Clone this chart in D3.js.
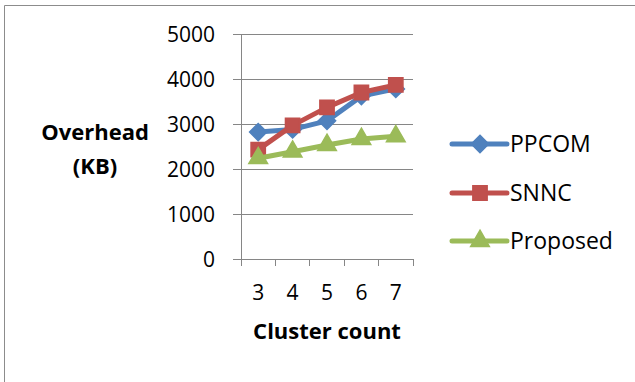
<!DOCTYPE html>
<html>
<head>
<meta charset="utf-8">
<script src="https://cdn.jsdelivr.net/npm/d3@7"></script>
<style>
  html, body { margin: 0; padding: 0; background: #fff; }
  svg { display: block; }
  text { font-family: "Open Sans", "Noto Sans", sans-serif; fill: #000; }
</style>
</head>
<body>
<svg id="chart" width="635" height="382"></svg>
<script>
// Overhead (KB) by cluster count for three schemes
const clusterCounts = ["3", "4", "5", "6", "7"];
const ppcom    = [2820, 2880, 3070, 3620, 3780];
const snnc     = [2430, 2970, 3370, 3700, 3870];
const proposed = [2240, 2385, 2533, 2667, 2726];
const yTicks   = [0, 1000, 2000, 3000, 4000, 5000];

const series = [
  { name: "PPCOM",    values: ppcom,    color: "#4F81BD", marker: "diamond" },
  { name: "SNNC",     values: snnc,     color: "#C0504D", marker: "square" },
  { name: "Proposed", values: proposed, color: "#9BBB59", marker: "triangle" }
];

const svg = d3.select("#chart");
const gridColor = "#868686";

// outer frame (open on the right and bottom)
svg.append("path")
  .attr("d", "M4.5,382 V5.5 H635")
  .attr("fill", "none")
  .attr("stroke", "#8c8c8c")
  .attr("stroke-width", 1);

const plot = { left: 241, right: 413, top: 34, bottom: 259 };

const x = d3.scaleBand()
  .domain(clusterCounts)
  .range([plot.left, plot.right])
  .padding(0);

const y = d3.scaleLinear()
  .domain([0, 5000])
  .range([plot.bottom, plot.top]);

// horizontal gridlines + y-axis
const yAxis = d3.axisLeft(y)
  .tickValues(yTicks)
  .tickFormat(d3.format("d"))
  .tickSize(-(plot.right - plot.left))
  .tickPadding(18);

const gy = svg.append("g")
  .attr("transform", `translate(${plot.left},0)`)
  .call(yAxis);
gy.select(".domain").remove();
gy.selectAll(".tick line")
  .attr("x1", -8)
  .attr("stroke", gridColor)
  .attr("shape-rendering", "crispEdges");
gy.selectAll(".tick text")
  .attr("x", -26)
  .style("font-size", "21px")
  .attr("dy", "0.35em");

// vertical axis line
svg.append("line")
  .attr("x1", plot.left).attr("x2", plot.left)
  .attr("y1", plot.top).attr("y2", plot.bottom + 7)
  .attr("stroke", gridColor)
  .attr("shape-rendering", "crispEdges");

// x axis: ticks sit between categories
const gx = svg.append("g")
  .attr("transform", `translate(0,${plot.bottom})`);
gx.append("line")
  .attr("x1", plot.left - 8).attr("x2", plot.right)
  .attr("stroke", gridColor)
  .attr("shape-rendering", "crispEdges");
gx.selectAll("line.tk")
  .data(clusterCounts)
  .join("line")
  .attr("class", "tk")
  .attr("x1", d => x(d) + x.bandwidth())
  .attr("x2", d => x(d) + x.bandwidth())
  .attr("y1", 0).attr("y2", 7)
  .attr("stroke", gridColor)
  .attr("shape-rendering", "crispEdges");
gx.selectAll("text")
  .data(clusterCounts)
  .join("text")
  .attr("x", d => x(d) + x.bandwidth() / 2)
  .attr("y", 34)
  .attr("dy", "0.35em")
  .attr("text-anchor", "middle")
  .style("font-size", "21px")
  .text(d => d);

// axis titles
svg.append("text")
  .attr("x", (plot.left + plot.right) / 2)
  .attr("y", 331)
  .attr("dy", "0.35em")
  .attr("text-anchor", "middle")
  .style("font-size", "22px")
  .style("font-weight", "bold")
  .text("Cluster count");

const yTitle = svg.append("text")
  .attr("text-anchor", "middle")
  .style("font-size", "22px")
  .style("font-weight", "bold");
yTitle.append("tspan").attr("x", 95).attr("y", 132).attr("dy", "0.35em").text("Overhead");
yTitle.append("tspan").attr("x", 95).attr("y", 166).attr("dy", "0.35em").text("(KB)");

// marker shapes
const symbolFor = {
  diamond:  d3.symbol().type(d3.symbolDiamond2).size(190),
  square:   d3.symbol().type(d3.symbolSquare2).size(260),
  triangle: d3.symbol().type(d3.symbolTriangle2).size(250)
};

const line = d3.line()
  .x((d, i) => x(clusterCounts[i]) + x.bandwidth() / 2)
  .y(d => y(d));

series.forEach(s => {
  const g = svg.append("g");
  g.append("path")
    .datum(s.values)
    .attr("d", line)
    .attr("fill", "none")
    .attr("stroke", s.color)
    .attr("stroke-width", 5)
    .attr("stroke-linejoin", "round")
    .attr("stroke-linecap", "round");
  g.selectAll("path.mk")
    .data(s.values)
    .join("path")
    .attr("class", "mk")
    .attr("transform", (d, i) => `translate(${x(clusterCounts[i]) + x.bandwidth() / 2},${y(d)})`)
    .attr("d", symbolFor[s.marker])
    .attr("fill", s.color)
    .attr("stroke", s.color)
    .attr("stroke-width", 1.5);
});

// legend
const legendRows = [144, 193, 241];
const legend = svg.append("g");
series.forEach((s, i) => {
  const ly = legendRows[i];
  legend.append("line")
    .attr("x1", 452).attr("x2", 507)
    .attr("y1", ly).attr("y2", ly)
    .attr("stroke", s.color)
    .attr("stroke-width", 5)
    .attr("stroke-linecap", "round");
  legend.append("path")
    .attr("transform", `translate(480,${ly})`)
    .attr("d", symbolFor[s.marker])
    .attr("fill", s.color)
    .attr("stroke", s.color)
    .attr("stroke-width", 1.5);
  legend.append("text")
    .attr("x", 510)
    .attr("y", ly)
    .attr("dy", "0.35em")
    .style("font-size", "23px")
    .text(s.name);
});
</script>
</body>
</html>
